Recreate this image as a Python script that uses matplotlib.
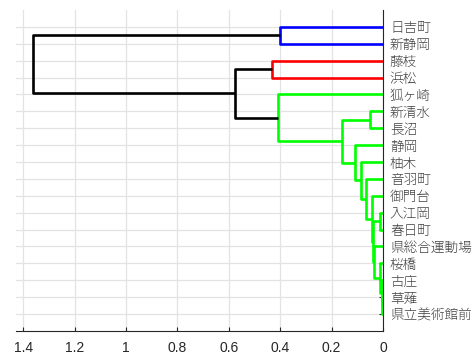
import numpy as np
import matplotlib
matplotlib.use('Agg')
import matplotlib.pyplot as plt

plt.rcParams['font.family'] = ['Noto Sans CJK JP', 'DejaVu Sans']

# leaves, in display order (top to bottom)
leaves = ['日吉町', '新静岡', '藤枝', '浜松', '狐ヶ崎', '新清水', '長沼', '静岡',
          '柚木', '音羽町', '御門台', '入江岡', '春日町', '県総合運動場', '桜橋',
          '古庄', '草薙', '県立美術館前']

# linkage: child a, child b, merge height (new node ids start at len(leaves))
link_a = [16, 15, 11, 14, 13, 20, 10, 5, 9, 8, 7, 25, 0, 4, 2, 32, 30]
link_b = [17, 18, 12, 19, 21, 22, 23, 6, 24, 26, 27, 28, 1, 29, 3, 31, 33]
link_h = [0.002, 0.005, 0.010, 0.012, 0.035, 0.040, 0.044, 0.051, 0.067,
          0.086, 0.109, 0.158, 0.400, 0.407, 0.430, 0.576, 1.362]

# cluster roots below the colour threshold
cluster_root = {30: 'blue', 32: 'red', 31: 'lime'}

n = len(leaves)
ypos = {i: n - i for i in range(n)}
hgt = {i: 0.0 for i in range(n)}
kids = {}
for k in range(len(link_h)):
    node = n + k
    a, b = link_a[k], link_b[k]
    kids[node] = (a, b)
    ypos[node] = (ypos[a] + ypos[b]) / 2
    hgt[node] = link_h[k]

# colour of every node
col = {}
def paint(node, c):
    col[node] = c
    if node in kids:
        for ch in kids[node]:
            paint(ch, c)

for node in kids:
    col[node] = 'black'
for root, c in cluster_root.items():
    paint(root, c)

fig = plt.figure(figsize=(4.76, 3.54), dpi=100)
ax = fig.add_axes([0.0336, 0.065, 0.771, 0.907])

for node, (a, b) in kids.items():
    ax.plot([hgt[a], hgt[node], hgt[node], hgt[b]],
            [ypos[a], ypos[a], ypos[b], ypos[b]],
            color=col[node], lw=1.9, solid_capstyle='butt', zorder=3)

ax.set_xlim(1.428, 0)
ax.set_ylim(0, n + 1)
ax.set_xticks([1.4, 1.2, 1.0, 0.8, 0.6, 0.4, 0.2, 0])
ax.set_xticklabels(['%g' % v for v in [1.4, 1.2, 1.0, 0.8, 0.6, 0.4, 0.2, 0]],
                   family=['Liberation Sans', 'DejaVu Sans'])
ax.set_yticks([ypos[i] for i in range(n)])
ax.set_yticklabels(leaves, fontsize=9.8, color='#404040', fontweight='light')

ax.yaxis.tick_right()
ax.spines['left'].set_visible(False)
ax.spines['top'].set_visible(False)
ax.spines['right'].set_color('#262626')
ax.spines['bottom'].set_color('#262626')
ax.tick_params(axis='x', direction='in', length=3, width=0.8, colors='#262626',
               labelsize=10, pad=7)
ax.tick_params(axis='y', direction='in', length=3, width=0.8, colors='#262626',
               pad=5, labelcolor='#404040')
ax.grid(True, color='#e3e3e3', lw=0.9, zorder=0)
ax.set_axisbelow(True)

fig.savefig('out.png', dpi=100)
